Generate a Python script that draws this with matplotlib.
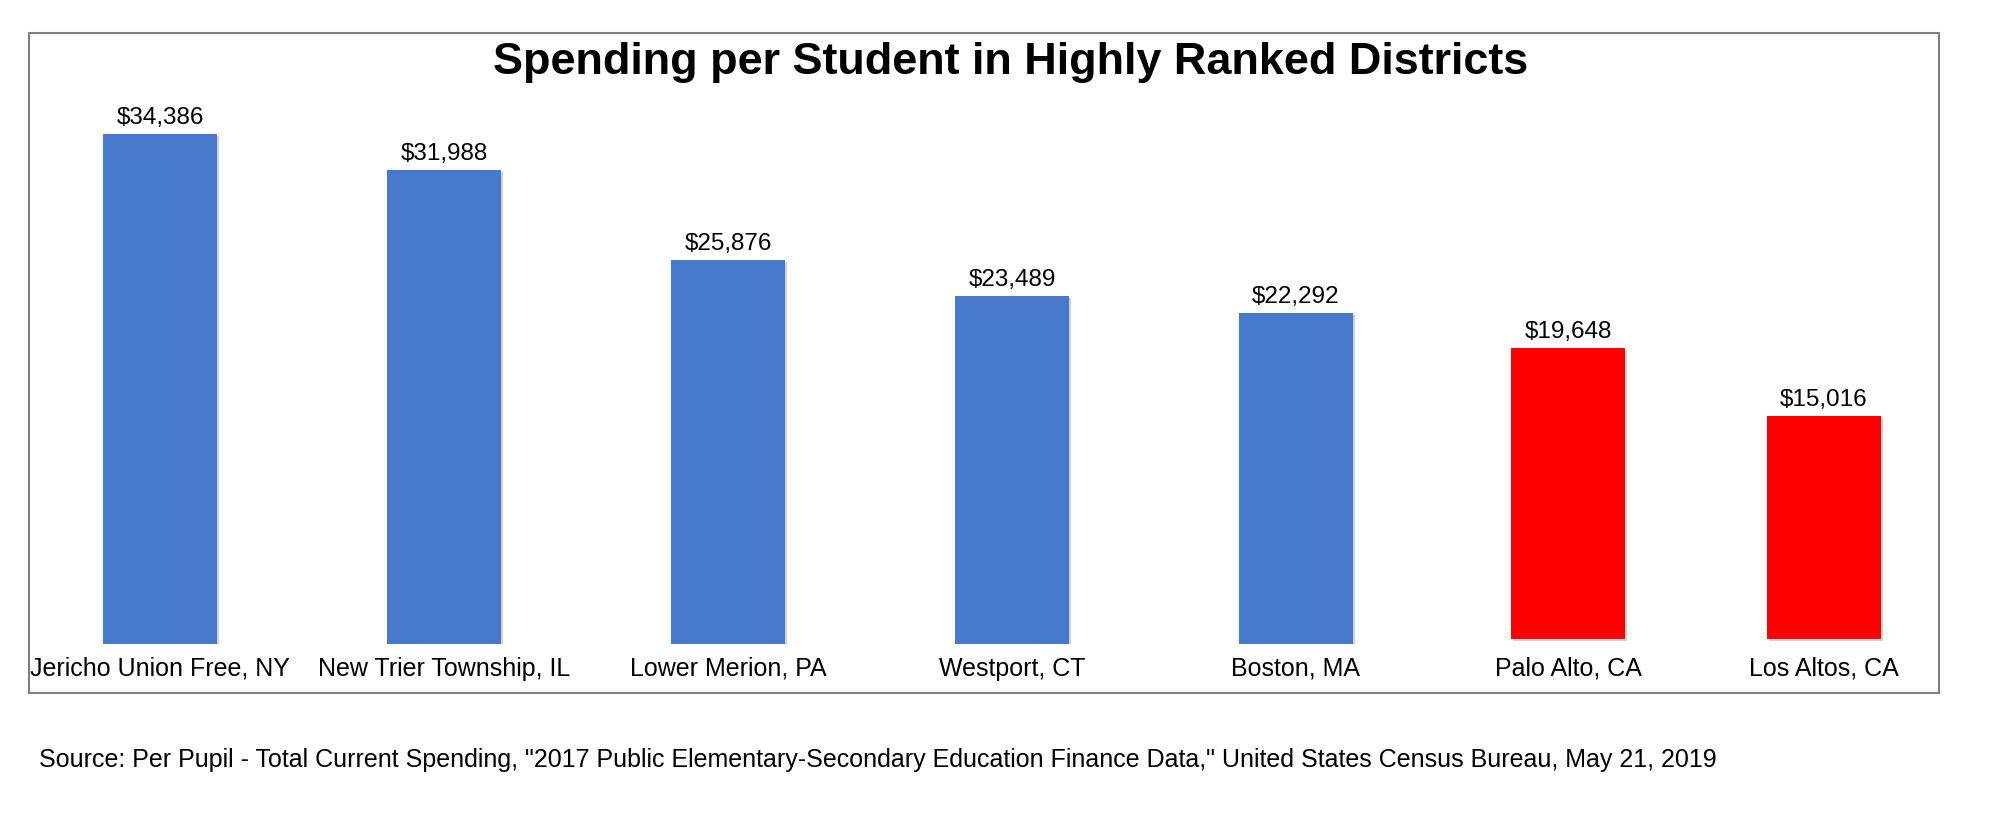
import numpy as np
import matplotlib
matplotlib.use("Agg")
import matplotlib.pyplot as plt
from matplotlib.patches import Rectangle
import matplotlib.patheffects as pe

plt.rcParams['font.family'] = ['Liberation Sans', 'DejaVu Sans']

districts = ["Jericho Union Free, NY", "New Trier Township, IL", "Lower Merion, PA",
             "Westport, CT", "Boston, MA", "Palo Alto, CA", "Los Altos, CA"]
spending = [34386, 31988, 25876, 23489, 22292, 19648, 15016]
bar_colors = ["#4679CC", "#4679CC", "#4679CC", "#4679CC", "#4679CC", "#FE0000", "#FE0000"]

W, H = 1996, 820
fig = plt.figure(figsize=(W / 100, H / 100), dpi=100)

# chart frame
fig.patches.append(Rectangle((29 / W, 1 - 694 / H), 1910 / W, 660 / H,
                             transform=fig.transFigure, fill=False,
                             edgecolor="#7f7f7f", linewidth=1.5))

# axes: left/right at frame edges, bottom at bar base
ax = fig.add_axes([29 / W, 1 - 645 / H, 1910 / W, 611 / H])
px = 1000 / 14.83  # data units per pixel

# the two red bars were nudged left and up a little in the original
x = np.arange(len(districts)) + np.array([0, 0, 0, 0, 0, -0.042, -0.141])
base = np.array([0, 0, 0, 0, 0, 5, 5]) * px
bars = ax.bar(x, spending, width=0.4, bottom=base, color=bar_colors)
for b in bars:
    b.set_path_effects([pe.SimplePatchShadow(offset=(1.5, -1.5), shadow_rgbFace="#000000", alpha=0.18),
                        pe.Normal()])

ax.set_xlim((29 - 160) / 284, (1939 - 160) / 284)
ax.set_ylim(0, 611 * px)
ax.axis("off")

for xi, v, b0, name in zip(x, spending, base, districts):
    ax.annotate(f"${v:,}", (xi, v + b0), xytext=(0, 8), textcoords="offset points",
                ha="center", va="baseline", fontsize=17.5)
    ax.annotate(name, (xi, 0), xytext=(0, -22.3), textcoords="offset points",
                ha="center", va="baseline", fontsize=18)

fig.text(1011 / W, 1 - 74 / H, "Spending per Student in Highly Ranked Districts",
         ha="center", va="baseline", fontsize=32.4, fontweight="bold")
fig.text(39 / W, 1 - 767 / H,
         'Source: Per Pupil - Total Current Spending, "2017 Public Elementary-Secondary Education Finance Data," '
         'United States Census Bureau, May 21, 2019',
         ha="left", va="baseline", fontsize=18)

fig.savefig("out.png", dpi=100, facecolor="white")
